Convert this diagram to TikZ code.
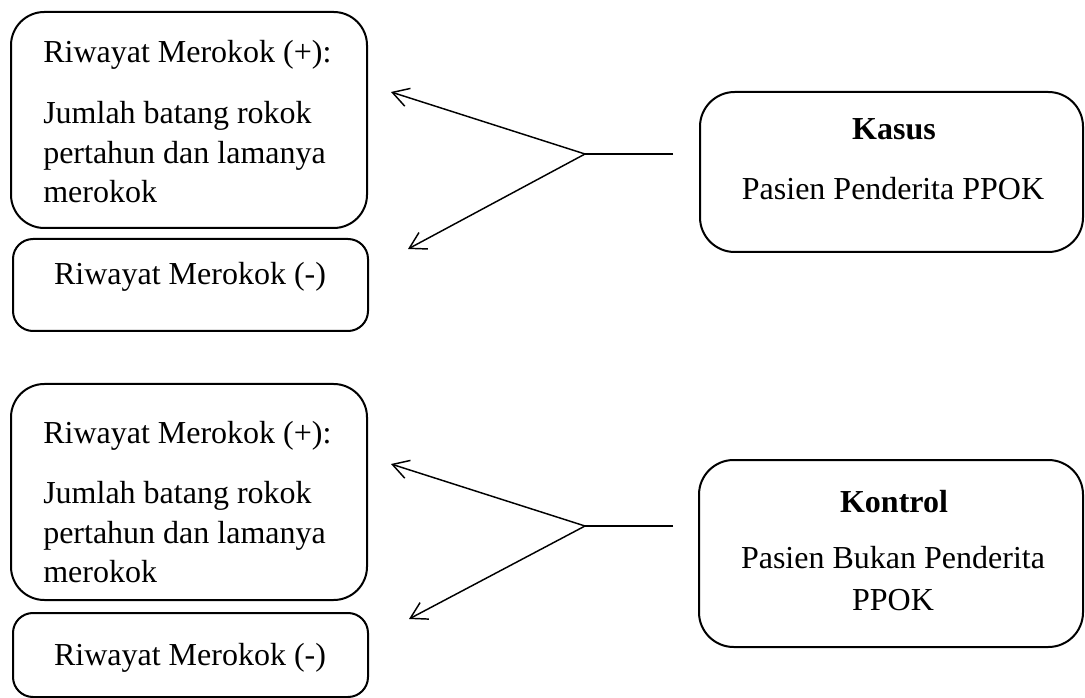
\documentclass[tikz,border=0pt]{standalone}
\usepackage{fontspec}
\setmainfont{Liberation Serif}
\usetikzlibrary{arrows.meta,positioning}

\tikzset{
  rbox/.style={draw, line width=1.5pt, rounded corners=#1, inner sep=0pt},
  txt/.style={inner sep=0pt, font=\fontsize{24}{30}\selectfont},
  conn/.style={line width=1.1pt, -{Straight Barb[length=12pt,width=14pt]}},
  stem/.style={line width=1.5pt}
}

\begin{document}
\begin{tikzpicture}[x=0.75pt,y=0.75pt,yscale=-1,xscale=1]
\useasboundingbox (0,0) rectangle (1085,698);

%Rounded Rect: kasus group
\node [rbox=25pt, minimum width=267pt, minimum height=162pt] (plusA) at (189,120) {};
\node [rbox=15pt, minimum width=266.25pt, minimum height=69pt] (minusA) at (190.5,285) {};
\node [rbox=26pt, minimum width=287.25pt, minimum height=120pt] (kasus) at (891.5,172) {};
%Rounded Rect: kontrol group
\node [rbox=25pt, minimum width=267pt, minimum height=162pt] (plusB) at (189,492) {};
\node [rbox=15pt, minimum width=266.25pt, minimum height=63pt] (minusB) at (190.5,655) {};
\node [rbox=26pt, minimum width=288pt, minimum height=140.25pt] (kontrol) at (891,553.5) {};

% Text Node
\node [txt, anchor=base west] (plusAhead) at (43,63) {Riwayat Merokok (+):};
\node [txt, anchor=base west] (plusAl1) at (43,124) {Jumlah batang rokok};
\node [txt, anchor=base west] (plusAl2) at (43,164) {pertahun dan lamanya};
\node [txt, anchor=base west] (plusAl3) at (43,203) {merokok};
\node [txt, anchor=base] (minusAtxt) at (190,285) {Riwayat Merokok (-)};
\node [txt, anchor=base] (kasushead) at (894,140) {\textbf{Kasus}};
\node [txt, anchor=base] (kasustxt) at (893,200) {Pasien Penderita PPOK};
% Text Node
\node [txt, anchor=base west] (plusBhead) at (43,443) {Riwayat Merokok (+):};
\node [txt, anchor=base west] (plusBl1) at (43,503) {Jumlah batang rokok};
\node [txt, anchor=base west] (plusBl2) at (43,543) {pertahun dan lamanya};
\node [txt, anchor=base west] (plusBl3) at (43,582) {merokok};
\node [txt, anchor=base] (minusBtxt) at (190,665) {Riwayat Merokok (-)};
\node [txt, anchor=base] (kontrolhead) at (894,512) {\textbf{Kontrol}};
\node [txt, anchor=base] (kontroll1) at (893,568) {Pasien Bukan Penderita};
\node [txt, anchor=base] (kontroll2) at (893,610) {PPOK};

%Straight Lines
\coordinate (forkA) at (585,154);
\coordinate (stemA) at (673,154);
\coordinate (tipA1) at (391,92);
\coordinate (tipA2) at (408,249);
\draw [stem] (stemA) -- (forkA);
\draw [conn] (forkA) -- (tipA1);
\draw [conn] (forkA) -- (tipA2);
%Straight Lines
\coordinate (forkB) at (585,526);
\coordinate (stemB) at (673,526);
\coordinate (tipB1) at (391,464);
\coordinate (tipB2) at (409,619);
\draw [stem] (stemB) -- (forkB);
\draw [conn] (forkB) -- (tipB1);
\draw [conn] (forkB) -- (tipB2);

\end{tikzpicture}
\end{document}
